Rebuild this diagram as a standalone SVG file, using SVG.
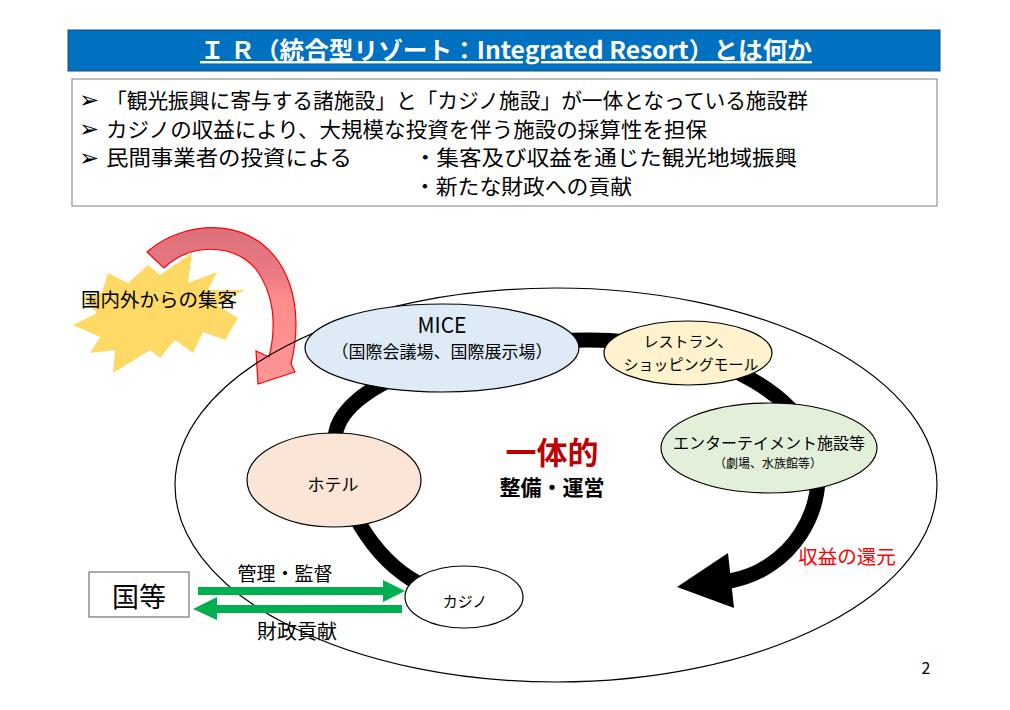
<svg xmlns="http://www.w3.org/2000/svg" width="1010" height="710" viewBox="0 0 1010 710">
<defs>
<linearGradient id="redg" x1="0" y1="0" x2="0" y2="1">
<stop offset="0" stop-color="#D9606B"/>
<stop offset="0.3" stop-color="#E86C78"/>
<stop offset="0.45" stop-color="#FF8080"/>
<stop offset="1" stop-color="#FF8A8A"/>
</linearGradient>
</defs>
<style>
text{font-family:"Noto Sans CJK JP","Noto Sans",sans-serif;fill:#000}
.node{stroke:#000;stroke-width:1.2}
.c{text-anchor:middle}
.bul{font-family:"DejaVu Sans",sans-serif}
</style>
<rect width="1010" height="710" fill="#fff"/>

<g id="title">
<rect x="68" y="30" width="872" height="41" fill="#0070C0" stroke="#1F4E79" stroke-width="1"/>
<text x="506" y="59" class="c" font-size="24" font-weight="bold" style="fill:#fff" text-decoration="underline" textLength="612" lengthAdjust="spacingAndGlyphs">Ｉ Ｒ（統合型リゾート：Integrated Resort）とは何か</text>
</g>

<g id="summary">
<rect x="72" y="79" width="865" height="127" fill="#fff" stroke="#7F7F7F" stroke-width="1"/>
<text x="79" y="108" font-size="24" class="bul">➢</text>
<text x="106" y="108" font-size="21" textLength="702" lengthAdjust="spacingAndGlyphs">「観光振興に寄与する諸施設」と「カジノ施設」が一体となっている施設群</text>
<text x="79" y="137" font-size="24" class="bul">➢</text>
<text x="106" y="137" font-size="21" textLength="601" lengthAdjust="spacingAndGlyphs">カジノの収益により、大規模な投資を伴う施設の採算性を担保</text>
<text x="79" y="166" font-size="24" class="bul">➢</text>
<text x="106" y="165" font-size="21" textLength="246" lengthAdjust="spacingAndGlyphs">民間事業者の投資による</text>
<text x="414" y="165" font-size="21" textLength="383" lengthAdjust="spacingAndGlyphs">・集客及び収益を通じた観光地域振興</text>
<text x="414" y="194" font-size="21" textLength="218" lengthAdjust="spacingAndGlyphs">・新たな財政への貢献</text>
</g>

<g id="visitors">
<polygon fill="#FFD966" points="108,273 128,283 148,265 160,275 192,253 188,283 217,272 208,290 245,290 217,305 238,318 225,340 203,332 193,353 175,340 160,358 150,350 113,373 115,350 90,353 100,337 73,325 97,313 83,298 102,292"/>
<text x="81" y="307" font-size="19.5">国内外からの集客</text>
</g>

<g id="connectors">
<path d="M147,252 C185,218 265,212 290,285 C298,310 298,335 291,364 L295,372 L258,384 L256,351 L269,357 C277,325 274,292 255,268 C232,243 190,243 164,268 Z" fill="url(#redg)" fill-opacity="0.9" stroke="#FF0000" stroke-width="1.2"/>
<ellipse cx="556" cy="485" rx="381" ry="197" fill="none" stroke="#000" stroke-width="1.2"/>
<path d="M418,583 C375,560 335,500 335,440 C335,385 460,340 590,340 C700,340 800,390 815,450 C830,510 790,570 730,581" fill="none" stroke="#000" stroke-width="15"/>
<polygon points="677,587 728,553 734,608" fill="#000"/>
<polygon points="198,587 383,587 383,580 405,591 383,602 383,595 198,595" fill="#00B050"/>
<polygon points="402,605 217,605 217,597 193,609 217,620 217,613 402,613" fill="#00B050"/>
<text x="285" y="581" class="c" font-size="19">管理・監督</text>
<text x="297" y="639" class="c" font-size="20">財政貢献</text>
<text x="847" y="564" class="c" font-size="19.5" style="fill:#FF0000">収益の還元</text>
</g>

<g id="mice">
<ellipse class="node" cx="442" cy="348" rx="137" ry="44" fill="#DEEBF7"/>
<text x="442" y="333" class="c" font-size="21">MICE</text>
<text x="442" y="358" class="c" font-size="17">（国際会議場、国際展示場）</text>
</g>

<g id="restaurant">
<ellipse class="node" cx="688" cy="353" rx="84" ry="32" fill="#FFF2CC"/>
<text x="688" y="347" class="c" font-size="15">レストラン、</text>
<text x="691" y="370" class="c" font-size="15">ショッピングモール</text>
</g>

<g id="entertainment">
<ellipse class="node" cx="769" cy="448" rx="108" ry="45" fill="#E2F0D9"/>
<text x="769" y="449" class="c" font-size="16">エンターテイメント施設等</text>
<text x="768" y="468" class="c" font-size="12">（劇場、水族館等）</text>
</g>

<g id="hotel">
<ellipse class="node" cx="334" cy="480" rx="87" ry="47" fill="#FBE5D6"/>
<text x="333" y="491" class="c" font-size="17">ホテル</text>
</g>

<g id="casino">
<ellipse class="node" cx="464" cy="597" rx="59" ry="31" fill="#fff"/>
<text x="465" y="607" class="c" font-size="15">カジノ</text>
</g>

<g id="center">
<text x="552" y="464" class="c" font-size="31" font-weight="bold" style="fill:#C00000">一体的</text>
<text x="552" y="495" class="c" font-size="21" font-weight="bold">整備・運営</text>
</g>

<g id="government">
<rect x="89" y="572" width="100" height="45" fill="#fff" stroke="#595959" stroke-width="1"/>
<text x="139" y="607" class="c" font-size="27">国等</text>
</g>

<text x="926" y="674" class="c" font-size="16">2</text>
</svg>
